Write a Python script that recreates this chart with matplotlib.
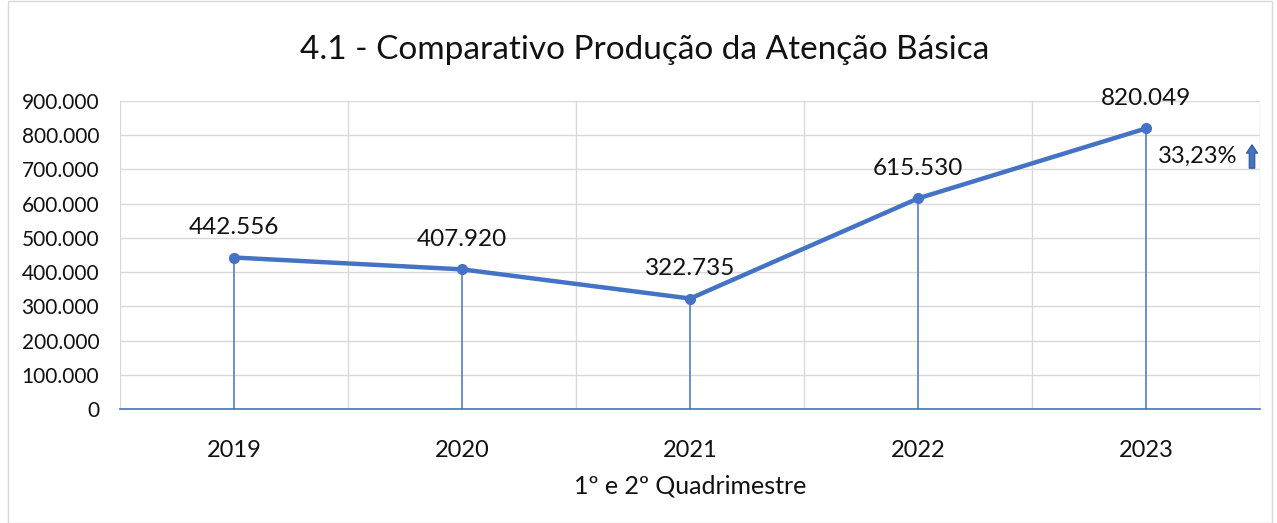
import matplotlib.pyplot as plt
from matplotlib.patches import Rectangle
from matplotlib.ticker import FuncFormatter

anos = ["2019", "2020", "2021", "2022", "2023"]
producao = [442556, 407920, 322735, 615530, 820049]
rotulos = ["442.556", "407.920", "322.735", "615.530", "820.049"]
variacao = "33,23%"

azul = "#4472C4"
plt.rcParams['font.family'] = ['Lato', 'DejaVu Sans']

fig = plt.figure(figsize=(12.77, 5.23), dpi=100)
ax = fig.add_axes([0.094, 0.218, 0.893, 0.589])

xs = list(range(len(anos)))
ax.plot(xs, producao, color=azul, lw=3.2, marker='o', ms=7, zorder=4)
ax.vlines(xs, 0, producao, color=azul, lw=1.1, zorder=3)

for x, y, lab in zip(xs, producao, rotulos):
    ax.annotate(lab, (x, y), xytext=(0, 14), textcoords='offset points',
                ha='center', va='bottom', fontsize=17.5, color='#111111')

# variation label next to the last point
ax.annotate(variacao, (xs[-1], producao[-1]), xytext=(8, -20),
            textcoords='offset points', ha='left', va='center',
            fontsize=17, color='#111111')
ax.annotate('', xy=(1252, 381), xytext=(1252, 352), xycoords='figure pixels',
            arrowprops=dict(arrowstyle='simple,head_width=0.8,head_length=0.6,tail_width=0.4',
                            fc=azul, ec='#2F528F', lw=0.8))

ax.set_xlim(-0.5, len(anos) - 0.5)
ax.set_ylim(0, 900000)
ax.set_yticks(range(0, 900001, 100000))
ax.yaxis.set_major_formatter(FuncFormatter(lambda v, p: f"{int(v):,}".replace(",", ".")))
ax.set_xticks(xs)
ax.set_xticklabels(anos)
ax.set_xticks([i - 0.5 for i in range(len(anos) + 1)], minor=True)
ax.grid(True, axis='y', color='#D9D9D9', lw=1)
ax.grid(True, axis='x', which='minor', color='#D9D9D9', lw=1)
ax.tick_params(axis='y', which='both', length=0, labelsize=15, colors='#111111', pad=15)
ax.tick_params(axis='x', which='both', length=0, labelsize=17, colors='#111111', pad=22)
for s in ['top', 'right', 'left']:
    ax.spines[s].set_visible(False)
ax.spines['bottom'].set_color(azul)
ax.spines['bottom'].set_linewidth(1.2)
ax.set_axisbelow(True)

ax.set_xlabel("1º e 2º Quadrimestre", fontsize=18, color='#111111', labelpad=10)
fig.text(0.505, 0.905, "4.1 - Comparativo Produção da Atenção Básica",
         ha='center', va='center', fontsize=24, color='#111111')

fig.patches.append(Rectangle((0.006, 0.0), 0.99, 0.998, transform=fig.transFigure,
                             fill=False, ec='#D9D9D9', lw=1))

fig.savefig("out.png", dpi=100)
